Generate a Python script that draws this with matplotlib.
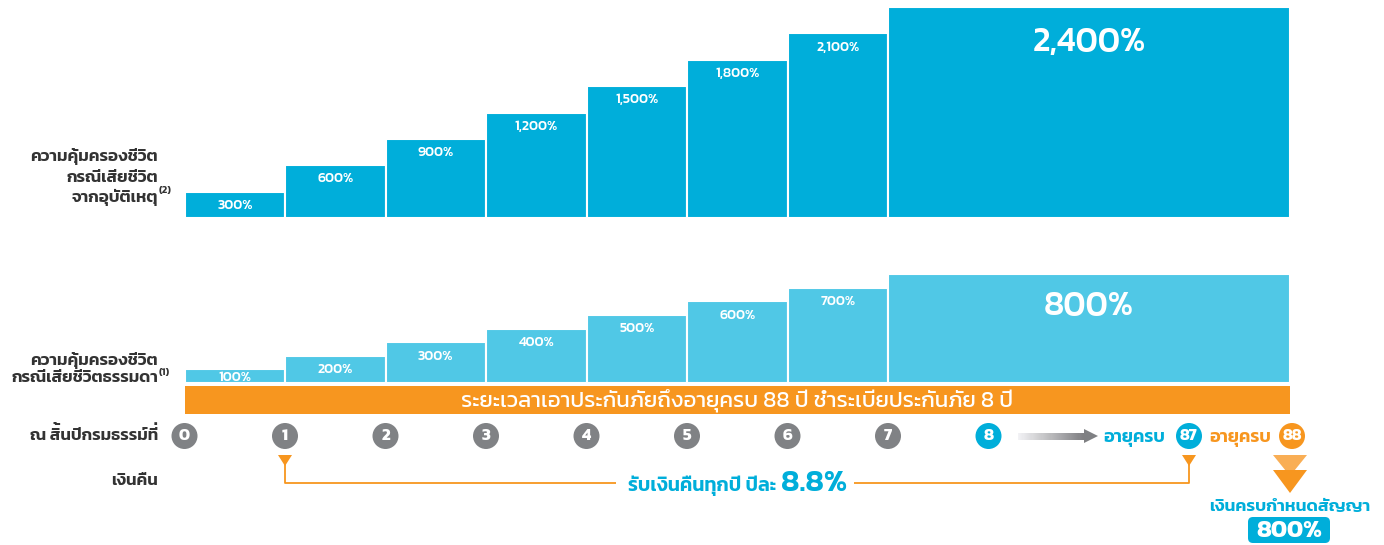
import matplotlib
matplotlib.use('Agg')
import matplotlib.pyplot as plt
from matplotlib.patches import Circle, Polygon, FancyBboxPatch, Rectangle
from matplotlib.font_manager import get_font, findfont
from matplotlib.backends.backend_agg import get_hinting_flag
import numpy as np

# ---- data ----
years = [0, 1, 2, 3, 4, 5, 6, 7]
accident_cov = [300, 600, 900, 1200, 1500, 1800, 2100, 2400]
natural_cov = [100, 200, 300, 400, 500, 600, 700, 800]
slot_width = [1, 1, 1, 1, 1, 1, 1, 4]
milestones = ['0', '1', '2', '3', '4', '5', '6', '7', '8']
payback_rate = '8.8%'
maturity_pay = '800%'

BLUE = '#00AEDA'
LIGHT = '#50C8E6'
ORANGE = '#F7961F'
GRAY = '#808285'
DARK = '#333333'

plt.rcParams['font.family'] = ['Kanit', 'DejaVu Sans']

W, H = 1384, 545
fig = plt.figure(figsize=(W / 100, H / 100), dpi=100)

x0, x1 = 184.5, 1290.0
ntot = sum(slot_width)
lefts = np.concatenate([[0], np.cumsum(slot_width)[:-1]])


def bar_axes(ybot, ytop, vmax):
    a = fig.add_axes([x0 / W, (H - ybot) / H, (x1 - x0) / W, (ybot - ytop) / H])
    a.set_xlim(0, ntot)
    a.set_ylim(0, vmax)
    a.axis('off')
    return a


# top chart: accidental death cover
ax1 = bar_axes(218, 7, 2400)
ax1.bar(lefts, accident_cov, width=slot_width, align='edge', color=BLUE,
        edgecolor='white', linewidth=1.5)
for l, w, v in zip(lefts, slot_width, accident_cov):
    if w > 1:
        ax1.text(l + w / 2, v - 400, f'{v:,}%', ha='center', va='center',
                 color='white', fontsize=24.5, fontweight=500)
    else:
        ax1.text(l + w / 2, v - 155, f'{v:,}%', ha='center', va='center',
                 color='white', fontsize=10, fontweight=500)

# bottom chart: natural death cover
ax2 = bar_axes(383, 274, 800)
ax2.bar(lefts, natural_cov, width=slot_width, align='edge', color=LIGHT,
        edgecolor='white', linewidth=1.5)
for l, w, v in zip(lefts, slot_width, natural_cov):
    if w > 1:
        ax2.text(l + w / 2, v - 242, f'{v:,}%', ha='center', va='center',
                 color='white', fontsize=24.5, fontweight=500)
    else:
        ax2.text(l + w / 2, max(v - 103, 44), f'{v:,}%', ha='center', va='center',
                 color='white', fontsize=10, fontweight=500)

# overlay in pixel coordinates
ov = fig.add_axes([0, 0, 1, 1])
ov.set_xlim(0, W)
ov.set_ylim(H, 0)
ov.axis('off')
ov.set_zorder(-1)

UPPER = set('\u0e31\u0e34\u0e35\u0e36\u0e37\u0e47')
TONES = set('\u0e48\u0e49\u0e4a\u0e4b\u0e4c')


def _xmax(font, s):
    font.set_text(s, 0.0, flags=get_hinting_flag())
    w, _ = font.get_width_height()
    xo, _ = font.get_bitmap_offset()
    return (xo + w) / 64


def thai(x, y, s, ha='left', zorder=3, **kw):
    # no mark stacking in matplotlib: a tone mark after an upper vowel ends up
    # hidden inside the vowel, so draw it by itself one level higher
    keep, lifted = '', []
    for i, c in enumerate(s):
        if c in TONES and i > 0 and s[i - 1] in UPPER:
            lifted.append((len(keep) - 1, c))
        else:
            keep += c
    t = ov.text(x, y, keep, ha=ha, va='baseline', zorder=zorder, **kw)
    if lifted:
        r = fig.canvas.get_renderer()
        prop = t.get_fontproperties()
        font = get_font(findfont(prop))
        font.set_size(prop.get_size_in_points(), fig.dpi)
        origin = t.get_window_extent(r).x0
        dy = 0.27 * prop.get_size_in_points() * fig.dpi / 72
        for vi, c in lifted:
            pen = _xmax(font, keep[:vi] + 'ก') - _xmax(font, 'ก')
            ov.text(origin + pen, y - dy, c, ha='left', va='baseline', zorder=zorder, **kw)
    return t


lab = dict(ha='right', fontsize=12.2, fontweight=600, color=DARK)
thai(158, 161, 'ความคุ้มครองชีวิต', **lab)
thai(158, 182, 'กรณีเสียชีวิต', **lab)
thai(158, 202, 'จากอุบัติเหตุ', **lab)
ov.text(159, 191, '(2)', ha='left', va='center', fontsize=7.5, fontweight=600, color=DARK)
thai(158, 365, 'ความคุ้มครองชีวิต', **lab)
thai(158, 382, 'กรณีเสียชีวิตธรรมดา', **lab)
ov.text(159, 373, '(1)', ha='left', va='center', fontsize=7.5, fontweight=600, color=DARK)

# orange band
ov.add_patch(Rectangle((x0, 386), x1 - x0, 28, color=ORANGE, lw=0))
thai((x0 + x1) / 2, 406, 'ระยะเวลาเอาประกันภัยถึงอายุครบ 88 ปี ชำระเบี้ยประกันภัย 8 ปี',
     ha='center', fontsize=16, color='white')

# milestone circles
slot_px = (x1 - x0) / ntot
cy = 436
thai(158, 440, 'ณ สิ้นปีกรมธรรม์ที่', **lab)
for i, m in enumerate(milestones):
    cx = x0 + i * slot_px
    col = BLUE if i == len(milestones) - 1 else GRAY
    ov.add_patch(Circle((cx, cy), 13, color=col, lw=0))
    ov.text(cx, cy, m, ha='center', va='center', color='white', fontsize=12,
            fontweight=700)

# gradient arrow
xs = np.linspace(1018, 1084, 60)
for a, b, t in zip(xs[:-1], xs[1:], np.linspace(0, 1, len(xs) - 1)):
    g = 0.95 - t * (0.95 - 0.50)
    ov.add_patch(Rectangle((a, cy - 3.5), b - a + 0.5, 7, color=(g, g, g + 0.01), lw=0))
ov.add_patch(Polygon([[1084, cy - 7], [1098, cy], [1084, cy + 7]], color='#7f8083', lw=0))

thai(1134, 442, 'อายุครบ', ha='center', fontsize=13, fontweight=600, color=BLUE)
ov.add_patch(Circle((1189, cy), 13, color=BLUE, lw=0))
ov.text(1189, cy, '87', ha='center', va='center', color='white', fontsize=11.5, fontweight=700)
thai(1240, 442, 'อายุครบ', ha='center', fontsize=13, fontweight=600, color=ORANGE)
ov.add_patch(Circle((1292, cy), 13, color=ORANGE, lw=0))
ov.text(1292, cy, '88', ha='center', va='center', color='white', fontsize=11.5, fontweight=700)

# payback bracket
thai(158, 485, 'เงินคืน', **lab)
px_a, px_b, ly = x0 + slot_px, 1189, 483
for px in (px_a, px_b):
    ov.add_patch(Polygon([[px - 7, 455], [px + 7, 455], [px, 466]], color=ORANGE, lw=0))
ov.plot([px_a, px_a, px_b, px_b], [464, ly, ly, 464], color=ORANGE, lw=1.3)
ov.add_patch(Rectangle((616, 470), 238, 26, color='white', lw=0, zorder=3))
thai(776, 491, 'รับเงินคืนทุกปี ปีละ', ha='right', fontsize=14,
     fontweight=600, color=BLUE, zorder=4)
ov.text(781, 491, payback_rate, ha='left', va='baseline', fontsize=22,
        fontweight=600, color=BLUE, zorder=4)

# maturity chevrons
mx = 1290
ov.add_patch(Polygon([[mx - 17, 455], [mx + 17, 455], [mx, 476]], color='#F9AE55', lw=0))
ov.add_patch(Polygon([[mx - 17, 470], [mx + 17, 470], [mx, 493]], color=ORANGE, lw=0))
thai(mx, 511, 'เงินครบกำหนดสัญญา', ha='center', fontsize=12.5,
     fontweight=600, color=BLUE)
ov.add_patch(FancyBboxPatch((1248, 517), 82, 26, boxstyle='round,pad=0,rounding_size=5',
                            color=BLUE, lw=0))
ov.text(1289, 537, maturity_pay, ha='center', va='baseline', fontsize=17.5,
        fontweight=700, color='white')

fig.savefig('out.png', dpi=100)
